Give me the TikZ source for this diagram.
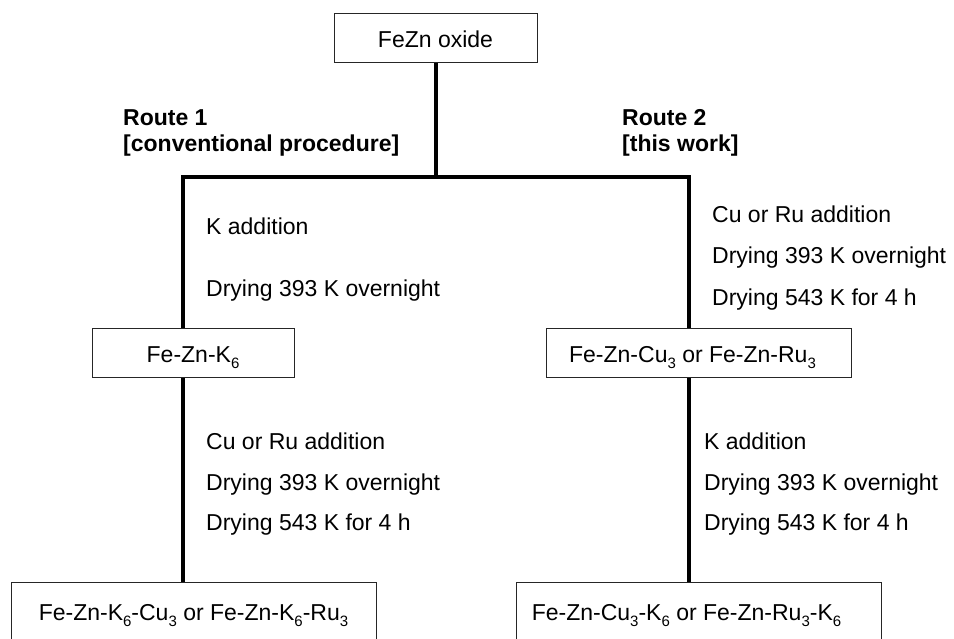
\documentclass[tikz,border=0pt]{standalone}
\usepackage{fontspec}
\setmainfont{Liberation Sans}
\usepackage{tikz}

\newcommand\lowsub[1]{\raisebox{-6pt}{\fontsize{15pt}{15pt}\selectfont #1}}

\begin{document}
\begin{tikzpicture}[x=1pt, y=-1pt,
		font=\fontsize{23pt}{27pt}\selectfont,
		box/.style={draw=black!85, line width=1pt, inner sep=0pt, text height=34pt, text depth=15pt},
		lastbox/.style={box, text height=38pt, text depth=30pt},
		route/.style={line width=4pt},
		label/.style={anchor=base west, inner sep=0pt}]
			\path[use as bounding box, clip] (0,0) rectangle (954,639);

			\coordinate (j1) at (183,177);
			\coordinate (j2) at (689,177);

			% boxes
			\node [box, minimum width=203pt, anchor=north] (oxide) at (435.5,13) {FeZn oxide};
			\node [box, minimum width=202pt, anchor=north] (k6) at (193,328) {Fe-Zn-K\lowsub{6}};
			\node [box, minimum width=305pt, anchor=north] (cu3) at (698.5,328) {Fe-Zn-Cu\lowsub{3} or Fe-Zn-Ru\lowsub{3}\hspace{12pt}\mbox{}};
			\node [lastbox, minimum width=365pt, anchor=north] (k6cu3) at (193.5,582) {Fe-Zn-K\lowsub{6}-Cu\lowsub{3} or Fe-Zn-K\lowsub{6}-Ru\lowsub{3}};
			\node [lastbox, minimum width=365pt, anchor=north] (cu3k6) at (698.5,582) {Fe-Zn-Cu\lowsub{3}-K\lowsub{6} or Fe-Zn-Ru\lowsub{3}-K\lowsub{6}\hspace{24pt}\mbox{}};

			% routes
			\begin{scope}[route]
				\draw (oxide.south) -- (oxide.south |- j1);
				\draw (k6.north -| j1) -- (j1) -- (j2) -- (j2 |- cu3.north);
				\draw (j1 |- k6.south) -- (j1 |- k6cu3.north);
				\draw (j2 |- cu3.south) -- (j2 |- cu3k6.north);
			\end{scope}

			\node [label, font=\fontsize{23pt}{27pt}\selectfont\bfseries] (r1) at (123,126) {Route 1};
			\node [label, font=\fontsize{23pt}{27pt}\selectfont\bfseries] (r1b) at (123,151.5) {[conventional procedure]};
			\node [label, font=\fontsize{23pt}{27pt}\selectfont\bfseries] (r2) at (622,126) {Route 2};
			\node [label, font=\fontsize{23pt}{27pt}\selectfont\bfseries] (r2b) at (622,151.5) {[this work]};

			% steps, route 1
			\node [label] (s1a) at (206,235) {K addition};
			\node [label] (s1b) at (206,297) {Drying 393 K overnight};
			\node [label] (s1c) at (206,449) {Cu or Ru addition};
			\node [label] (s1d) at (206,490) {Drying 393 K overnight};
			\node [label] (s1e) at (206,530) {Drying 543 K for 4 h};

			% steps, route 2
			\node [label] (s2a) at (712,223) {Cu or Ru addition};
			\node [label] (s2b) at (712,264) {Drying 393 K overnight};
			\node [label] (s2c) at (712,306) {Drying 543 K for 4 h};
			\node [label] (s2d) at (704,449) {K addition};
			\node [label] (s2e) at (704,490) {Drying 393 K overnight};
			\node [label] (s2f) at (704,530) {Drying 543 K for 4 h};
		\end{tikzpicture}
\end{document}
